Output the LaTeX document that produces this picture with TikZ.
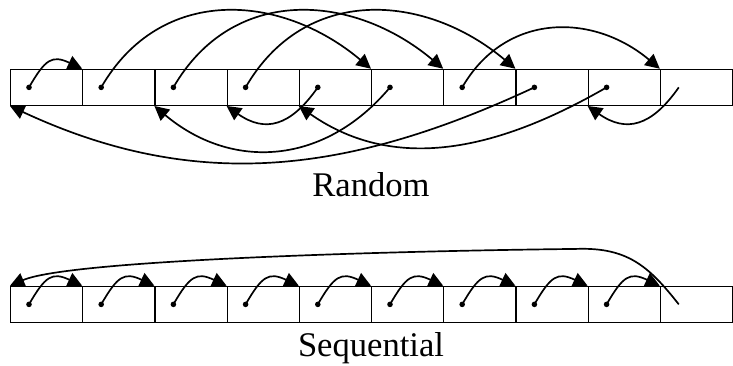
\documentclass[tikz,border=0pt]{standalone}
\usepackage{fontspec}
\setmainfont{Liberation Serif}
\usetikzlibrary{positioning,arrows.meta,calc}
\tikzset{
  cell/.style={draw,line width=0.9pt,minimum width=\w cm,minimum height=0.9cm,inner sep=0pt,anchor=south west},
  ptr/.style={->,line width=1.2pt},
  lbl/.style={font=\fontsize{24.6}{29}\selectfont,anchor=base,inner sep=0pt}
}

\begin{document}
\begin{tikzpicture}[>={Triangle[length=0.36cm,width=0.36cm]}]
  \def\w{1.805}
  \useasboundingbox (0,0) rectangle (18.325,9.15);
  \foreach \i in {0,...,9} {
    \node[cell] (c\i) at (0.25+\i*\w,6.5) {};
    \coordinate (p\i) at ([xshift=0.475cm]c\i.west);
    \node[cell] (s\i) at (0.25+\i*\w,1.075) {};
    \coordinate (q\i) at ([xshift=0.475cm]s\i.west);
  }
  \foreach \i in {0,...,8} \fill (p\i) circle (0.07) (q\i) circle (0.07);

  \draw[ptr] (p0) to[out=60,in=155,looseness=1.5] (c1.north west);
  \foreach \a/\b in {1/5,2/6,3/7,6/9}
    \draw[ptr] (p\a) to[out=60,in=140,looseness=1.12] (c\b.north west);
  \draw[ptr] (p4) to[out=235,in=-35,looseness=1.3] (c3.south west);
  \draw[ptr] (p9) to[out=235,in=-35,looseness=1.3] (c8.south west);
  \draw[ptr] (p5) to[out=230,in=-40,looseness=1.1] (c2.south west);
  \draw[ptr] (p8) to[out=210,in=-35] (c4.south west);
  \draw[ptr] (p7) to[out=205,in=-25] (c0.south west);
  \node[lbl] (rand) at ($(c5.south west)+(0,-2.275)$) {Random};

  \foreach \a [evaluate=\a as \b using int(\a+1)] in {0,...,8}
    \draw[ptr] (q\a) to[out=60,in=155,looseness=1.5] (s\b.north west);
  \coordinate (wrap) at ($(s8.north west)+(-0.3,0.92)$);
  \draw[ptr] (q9) .. controls +(-0.75,0.95) and +(1.3,0.05) .. (wrap)
    .. controls +(-4.5,-0.05) and +(1.5,0.65) .. (s0.north west);
  \node[lbl] (seq) at ($(s5.south west)+(0,-0.85)$) {Sequential};
\end{tikzpicture}
\end{document}
